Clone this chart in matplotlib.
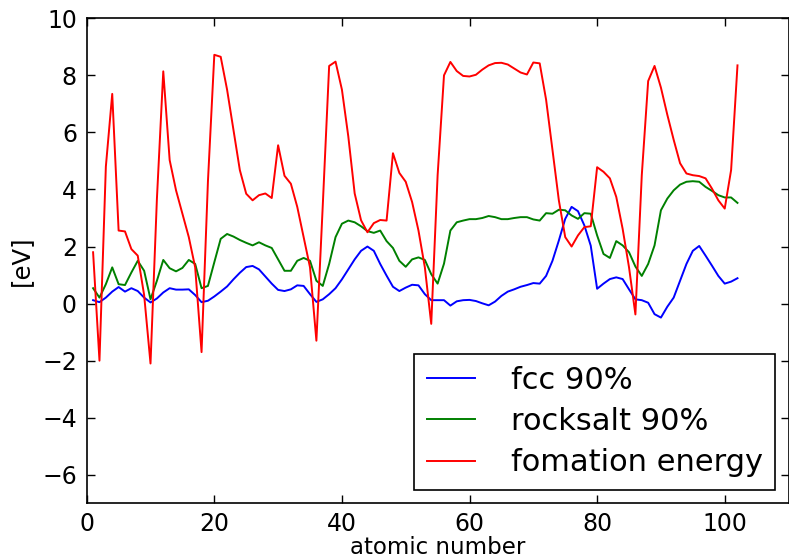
import matplotlib
matplotlib.use("Agg")
import matplotlib.pyplot as plt
import numpy as np

# atomic numbers 1..102
z = np.arange(1, 103)

fcc = [0.12, 0.05, 0.21, 0.42, 0.58, 0.42, 0.54, 0.44, 0.21, 0.04,
       0.18, 0.39, 0.54, 0.49, 0.49, 0.50, 0.30, 0.05, 0.10, 0.25,
       0.42, 0.60, 0.85, 1.08, 1.28, 1.32, 1.20, 0.95, 0.70, 0.48,
       0.44, 0.50, 0.64, 0.62, 0.33, 0.06, 0.15, 0.33, 0.54, 0.85,
       1.20, 1.55, 1.85, 2.00, 1.85, 1.39, 0.98, 0.59, 0.44, 0.56,
       0.66, 0.64, 0.33, 0.12, 0.12, 0.12, -0.07, 0.08, 0.12, 0.13,
       0.09, 0.01, -0.06, 0.07, 0.27, 0.42, 0.50, 0.59, 0.65, 0.72,
       0.70, 0.97, 1.50, 2.21, 2.97, 3.39, 3.24, 2.74, 2.03, 0.52,
       0.70, 0.86, 0.92, 0.86, 0.50, 0.15, 0.12, 0.03, -0.37, -0.49,
       -0.11, 0.21, 0.80, 1.39, 1.85, 2.02, 1.68, 1.33, 0.97, 0.70,
       0.77, 0.89]

rocksalt = [0.54, 0.21, 0.68, 1.27, 0.68, 0.65, 1.09, 1.50, 1.15, 0.15,
            0.80, 1.53, 1.24, 1.13, 1.25, 1.53, 1.39, 0.54, 0.62, 1.45,
            2.27, 2.44, 2.35, 2.23, 2.13, 2.04, 2.15, 2.04, 1.95, 1.55,
            1.15, 1.15, 1.50, 1.60, 1.50, 0.80, 0.62, 1.39, 2.33, 2.80,
            2.91, 2.85, 2.71, 2.54, 2.48, 2.56, 2.19, 1.95, 1.50, 1.29,
            1.55, 1.62, 1.53, 1.03, 0.70, 1.40, 2.56, 2.85, 2.91, 2.96,
            2.96, 3.00, 3.07, 3.03, 2.96, 2.96, 3.00, 3.03, 3.03, 2.95,
            2.91, 3.17, 3.15, 3.29, 3.27, 3.09, 2.97, 3.17, 3.15, 2.39,
            1.74, 1.60, 2.19, 2.04, 1.80, 1.30, 0.97, 1.39, 2.04, 3.27,
            3.68, 3.97, 4.17, 4.27, 4.29, 4.27, 4.09, 3.95, 3.80, 3.72,
            3.72, 3.53]

formation = [1.80, -2.00, 4.80, 7.35, 2.56, 2.53, 1.91, 1.68, 0.30, -2.10,
             3.66, 8.14, 5.03, 3.97, 3.15, 2.33, 1.27, -1.70, 4.28, 8.72,
             8.65, 7.50, 6.09, 4.68, 3.85, 3.62, 3.80, 3.86, 3.70, 5.55,
             4.48, 4.20, 3.39, 2.33, 1.27, -1.30, 3.45, 8.33, 8.48, 7.50,
             5.86, 3.86, 2.92, 2.50, 2.82, 2.93, 2.91, 5.27, 4.58, 4.27,
             3.56, 2.56, 1.27, -0.71, 4.50, 8.00, 8.47, 8.15, 7.98, 7.96,
             8.02, 8.20, 8.35, 8.43, 8.44, 8.38, 8.24, 8.10, 8.03, 8.45,
             8.42, 7.15, 5.39, 3.62, 2.33, 2.00, 2.39, 2.68, 2.71, 4.78,
             4.62, 4.39, 3.74, 2.62, 1.27, -0.38, 4.50, 7.80, 8.33, 7.57,
             6.62, 5.74, 4.92, 4.56, 4.50, 4.47, 4.39, 4.03, 3.62, 3.33,
             4.68, 8.35]

fig = plt.figure(figsize=(7.89, 5.59), dpi=100)
ax = fig.add_axes([0.1099, 0.0996, 0.8895, 0.8677])

ax.plot(z, fcc, color="b", lw=1.4, label="fcc 90%")
ax.plot(z, rocksalt, color="g", lw=1.4, label="rocksalt 90%")
ax.plot(z, formation, color="r", lw=1.4, label="fomation energy")

ax.set_xlim(0, 110)
ax.set_ylim(-7, 10)
ax.set_xticks(range(0, 101, 20))
ax.set_yticks(range(-6, 11, 2))
ax.tick_params(direction="in", top=True, right=True, length=6, width=1,
               labelsize=17, pad=7)
ax.tick_params(axis="x", pad=6)
for s in ax.spines.values():
    s.set_linewidth(1.2)

ax.set_xlabel("atomic number", fontsize=16.5, labelpad=0)
ax.set_ylabel("[eV]", fontsize=17.5, labelpad=7)

leg = ax.legend(loc="lower right", fontsize=22, fancybox=False,
                edgecolor="black", framealpha=1, handlelength=1.6,
                handletextpad=1.15, borderpad=0.4, labelspacing=0.4,
                borderaxespad=0.45)
leg.get_frame().set_linewidth(1.2)

fig.savefig("out.png", dpi=100)
